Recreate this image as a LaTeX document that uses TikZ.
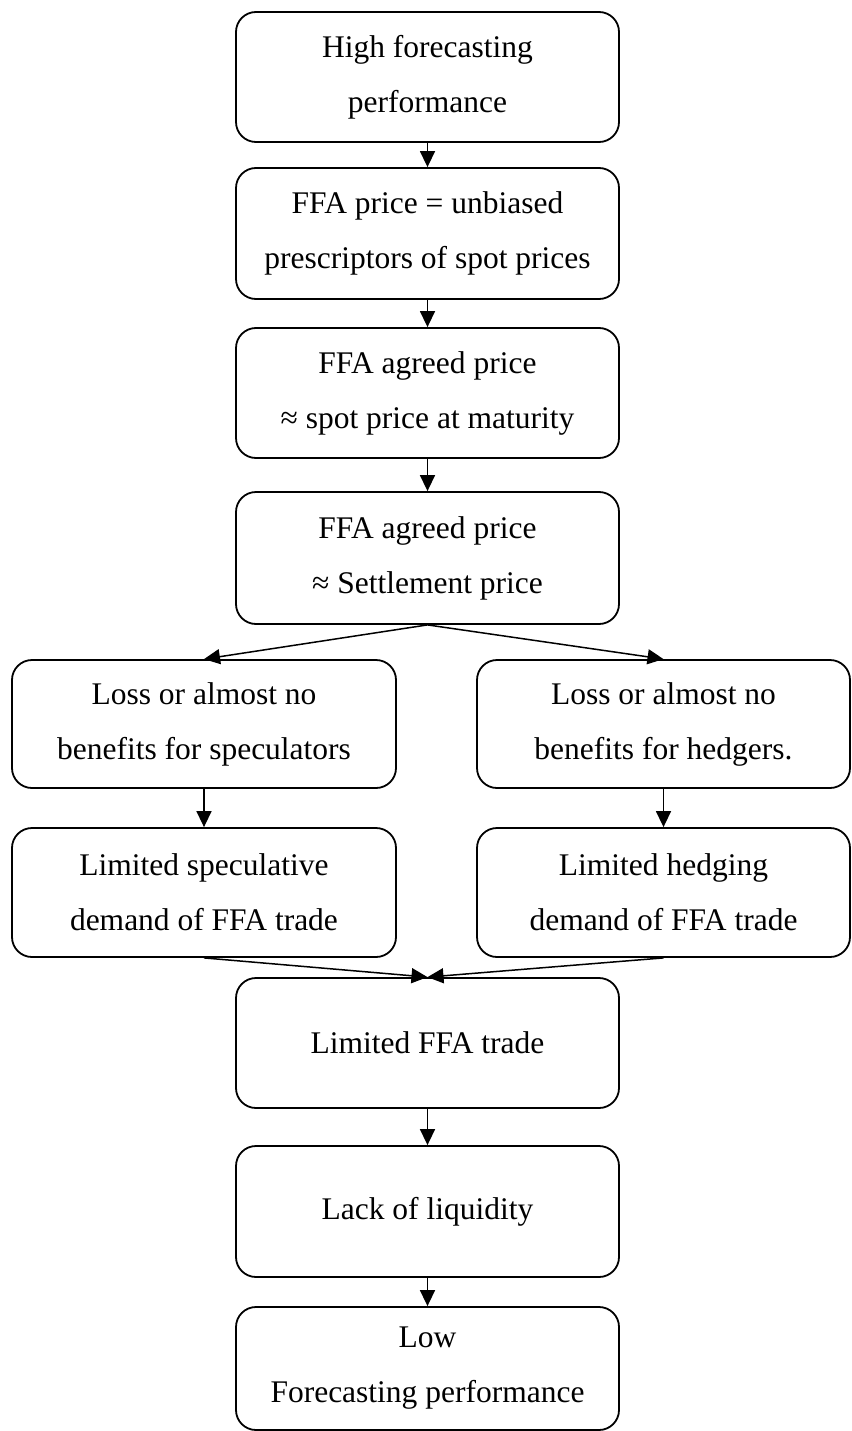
\documentclass[tikz,border=0pt]{standalone}
\usepackage{fontspec}
\setmainfont{Liberation Serif}
\usetikzlibrary{arrows.meta}
\begin{document}
\begin{tikzpicture}[x=1pt,y=-1pt,
  box/.style={draw, line width=1.8pt, rounded corners=20pt, align=center,
    inner sep=0pt, font=\fontsize{31.5}{55}\selectfont},
  cbox/.style={box, minimum width=383pt},
  lbox/.style={box, minimum width=384pt},
  rbox/.style={box, minimum width=373pt},
  arr/.style={line width=1.5pt, -{Triangle[length=16pt,width=15pt]}}]
\useasboundingbox (0,0) rectangle (851,1431);
\node[cbox, minimum height=130pt] (b1) at (427.5,77) {High forecasting\\performance};
\node[cbox, minimum height=131pt] (b2) at (427.5,233.5) {FFA price = unbiased\\prescriptors of spot prices};
\node[cbox, minimum height=130pt] (b3) at (427.5,393) {FFA agreed price\\≈ spot price at maturity};
\node[cbox, minimum height=132pt] (b4) at (427.5,558) {FFA agreed price\\≈ Settlement price};
\node[lbox, minimum height=128pt] (l1) at (204,724) {Loss or almost no\\benefits for speculators};
\node[rbox, minimum height=128pt] (r1) at (663.5,724) {Loss or almost no\\benefits for hedgers.};
\node[lbox, minimum height=129pt] (l2) at (204,892.5) {Limited speculative\\demand of FFA trade};
\node[rbox, minimum height=129pt] (r2) at (663.5,892.5) {Limited hedging\\demand of FFA trade};
\node[cbox, minimum height=130pt] (b7) at (427.5,1043) {Limited FFA trade};
\node[cbox, minimum height=131pt] (b8) at (427.5,1211.5) {Lack of liquidity};
\node[cbox, minimum height=123pt] (b9) at (427.5,1368.5) {Low\\Forecasting performance};
\draw[arr] (b1.south) -- (b2.north);
\draw[arr] (b2.south) -- (b3.north);
\draw[arr] (b3.south) -- (b4.north);
\draw[arr] (b4.south) -- (l1.north);
\draw[arr] (b4.south) -- (r1.north);
\draw[arr] (l1.south) -- (l2.north);
\draw[arr] (r1.south) -- (r2.north);
\draw[arr] (l2.south) -- (b7.north);
\draw[arr] (r2.south) -- (b7.north);
\draw[arr] (b7.south) -- (b8.north);
\draw[arr] (b8.south) -- (b9.north);
\end{tikzpicture}
\end{document}
